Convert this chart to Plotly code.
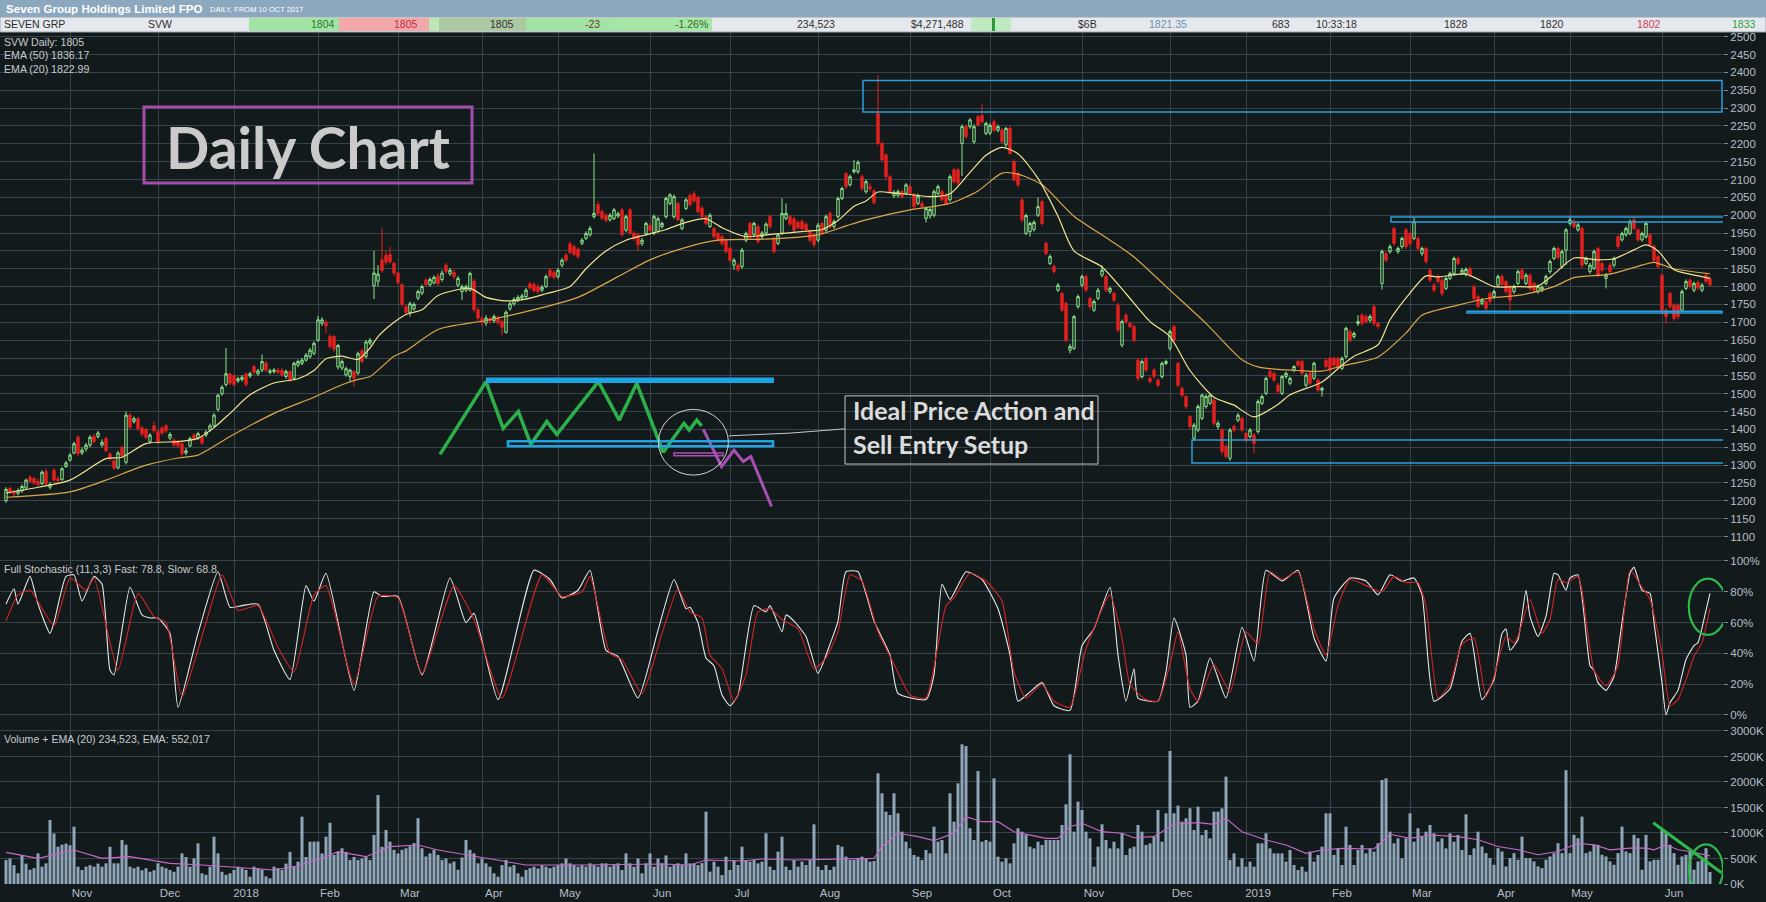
import plotly.graph_objects as go

# ---------------------------------------------------------------------------
# SVW daily candles, 10 Oct 2017 -> Jun 2019 (x = trading-day number)
# ---------------------------------------------------------------------------
opens = [
    1200, 1235, 1226, 1221, 1228, 1236, 1266, 1262, 1254, 1248,
    1282, 1238, 1285, 1262, 1260, 1296, 1314, 1334, 1378, 1334,
    1345, 1356, 1380, 1380, 1356, 1374, 1332, 1312, 1292, 1350,
    1308, 1440, 1422, 1430, 1404, 1400, 1366, 1410, 1394, 1404,
    1410, 1376, 1370, 1368, 1360, 1334, 1354, 1384, 1376, 1380,
    1384, 1398, 1410, 1456, 1500, 1526, 1555, 1550, 1536, 1540,
    1555, 1550, 1576, 1556, 1566, 1586, 1560, 1562, 1566, 1566,
    1548, 1562, 1543, 1580, 1585, 1594, 1604, 1613, 1650, 1697,
    1700, 1660, 1660, 1575, 1572, 1553, 1548, 1562, 1558, 1620,
    1604, 1642, 1802, 1815, 1875, 1888, 1890, 1865, 1838, 1805,
    1744, 1726, 1738, 1768, 1782, 1818, 1805, 1810, 1830, 1820,
    1860, 1836, 1840, 1804, 1786, 1790, 1790, 1815, 1735, 1710,
    1698, 1710, 1704, 1712, 1702, 1672, 1738, 1752, 1762, 1768,
    1772, 1808, 1806, 1800, 1790, 1800, 1846, 1840, 1828, 1860,
    1888, 1920, 1912, 1905, 1921, 1935, 1945, 1996, 2030, 2010,
    2000, 1987, 1991, 1998, 2015, 1958, 2015, 1950, 1945, 1921,
    1949, 1972, 1949, 1955, 1968, 1996, 2033, 1996, 2033, 1963,
    2019, 2055, 2060, 2050, 2020, 1996, 1968, 1963, 1949, 1940,
    1930, 1907, 1860, 1860, 1856, 1930, 1977, 1945, 1968, 1940,
    1950, 1996, 1935, 1921, 1949, 1991, 1996, 1990, 1980, 1982,
    1975, 1954, 1945, 1930, 1977, 1958, 2005, 1968, 1996, 2047,
    2117, 2085, 2122, 2122, 2108, 2066, 2080, 2068, 2285, 2201,
    2169, 2108, 2055, 2056, 2066, 2061, 2080, 2057, 2033, 2033,
    1991, 1998, 2000, 2061, 2066, 2057, 2043, 2127, 2127, 2201,
    2248, 2248, 2206, 2276, 2280, 2229, 2230, 2262, 2238, 2239,
    2197, 2243, 2150, 2117, 2043, 1949, 1954, 1960, 2000, 2038,
    1921, 1865, 1856, 1790, 1781, 1753, 1622, 1627, 1744, 1804,
    1828, 1767, 1734, 1767, 1832, 1828, 1786, 1781, 1748, 1636,
    1720, 1697, 1688, 1594, 1548, 1599, 1543, 1566, 1538, 1548,
    1585, 1627, 1688, 1585, 1515, 1492, 1436, 1375, 1398, 1431,
    1464, 1473, 1482, 1408, 1398, 1352, 1319, 1408, 1426, 1431,
    1389, 1380, 1384, 1394, 1473, 1501, 1562, 1557, 1524, 1501,
    1548, 1529, 1566, 1590, 1590, 1524, 1557, 1543, 1538, 1510,
    1594, 1599, 1599, 1599, 1571, 1604, 1674, 1660, 1697, 1720,
    1716, 1706, 1744, 1697, 1809, 1893, 1898, 1963, 1898, 1912,
    1959, 1949, 1935, 1935, 1893, 1907, 1846, 1804, 1828, 1818,
    1795, 1823, 1837, 1879, 1837, 1834, 1851, 1800, 1772, 1753,
    1758, 1781, 1772, 1804, 1828, 1814, 1800, 1786, 1809, 1846,
    1809, 1832, 1809, 1786, 1790, 1809, 1842, 1879, 1907, 1856,
    1902, 1977, 1982, 1959, 1963, 1865, 1842, 1851, 1907, 1865,
    1823, 1860, 1860, 1940, 1931, 1945, 1949, 1987, 1959, 1931,
    1940, 1945, 1912, 1884, 1832, 1734, 1781, 1748, 1748, 1734,
    1795, 1818, 1790, 1812, 1790, 1832, 1822,
]
highs = [
    1238, 1240, 1232, 1235, 1246, 1262, 1272, 1268, 1262, 1286,
    1290, 1252, 1292, 1270, 1294, 1312, 1334, 1366, 1384, 1350,
    1362, 1384, 1388, 1396, 1372, 1380, 1336, 1316, 1340, 1354,
    1450, 1446, 1436, 1436, 1410, 1404, 1390, 1422, 1400, 1410,
    1416, 1392, 1376, 1372, 1364, 1348, 1380, 1390, 1394, 1384,
    1398, 1416, 1446, 1500, 1524, 1628, 1560, 1556, 1548, 1552,
    1560, 1562, 1580, 1570, 1610, 1592, 1570, 1572, 1572, 1572,
    1568, 1566, 1590, 1596, 1600, 1614, 1628, 1646, 1718, 1714,
    1706, 1668, 1664, 1640, 1596, 1576, 1570, 1566, 1618, 1626,
    1650, 1656, 1900, 1860, 1963, 1900, 1912, 1870, 1842, 1810,
    1750, 1758, 1756, 1792, 1806, 1824, 1826, 1832, 1838, 1846,
    1866, 1852, 1848, 1830, 1806, 1806, 1842, 1822, 1742, 1718,
    1720, 1716, 1722, 1718, 1708, 1734, 1758, 1770, 1776, 1780,
    1796, 1814, 1812, 1808, 1804, 1834, 1852, 1846, 1852, 1880,
    1894, 1926, 1918, 1910, 1936, 1955, 1970, 2173, 2040, 2016,
    2006, 2006, 2020, 2010, 2020, 2002, 2020, 1956, 1950, 1936,
    1982, 1978, 2002, 1996, 1982, 2052, 2062, 2058, 2038, 1992,
    2048, 2062, 2068, 2056, 2026, 2000, 2006, 1968, 1954, 1946,
    1934, 1912, 1880, 1866, 1908, 1954, 1982, 1982, 1974, 1956,
    1980, 2002, 1940, 1950, 2047, 2033, 2000, 1996, 1986, 1988,
    1980, 1960, 1950, 1978, 1982, 2002, 2010, 1988, 2052, 2080,
    2122, 2114, 2155, 2154, 2114, 2100, 2090, 2074, 2393, 2206,
    2174, 2114, 2070, 2072, 2072, 2090, 2086, 2062, 2060, 2040,
    2024, 2022, 2072, 2086, 2072, 2062, 2114, 2132, 2132, 2254,
    2254, 2272, 2254, 2282, 2313, 2262, 2258, 2268, 2254, 2244,
    2248, 2250, 2156, 2122, 2048, 2004, 1982, 1986, 2050, 2044,
    1926, 1890, 1862, 1810, 1786, 1758, 1640, 1720, 1778, 1834,
    1834, 1772, 1764, 1796, 1860, 1834, 1800, 1786, 1754, 1708,
    1726, 1702, 1694, 1600, 1596, 1604, 1548, 1572, 1544, 1590,
    1596, 1680, 1694, 1590, 1520, 1496, 1440, 1418, 1470, 1500,
    1498, 1500, 1488, 1424, 1404, 1358, 1404, 1414, 1446, 1436,
    1394, 1404, 1390, 1484, 1498, 1548, 1568, 1562, 1530, 1552,
    1562, 1548, 1580, 1596, 1596, 1558, 1562, 1590, 1544, 1520,
    1600, 1604, 1604, 1604, 1604, 1688, 1680, 1674, 1720, 1726,
    1722, 1722, 1750, 1702, 1904, 1898, 1918, 1968, 1912, 1940,
    1964, 1954, 1994, 1940, 1912, 1912, 1852, 1810, 1834, 1824,
    1828, 1842, 1884, 1884, 1852, 1854, 1856, 1806, 1778, 1768,
    1764, 1786, 1792, 1834, 1834, 1820, 1806, 1806, 1848, 1852,
    1838, 1838, 1814, 1806, 1804, 1834, 1876, 1912, 1912, 1904,
    1964, 1996, 1990, 1978, 1968, 1884, 1866, 1904, 1912, 1870,
    1838, 1866, 1884, 1946, 1954, 1968, 1988, 1995, 1964, 1954,
    1982, 1950, 1918, 1890, 1836, 1740, 1786, 1754, 1752, 1792,
    1820, 1824, 1814, 1818, 1810, 1840, 1828,
]
lows = [
    1195, 1218, 1212, 1215, 1222, 1232, 1250, 1244, 1240, 1244,
    1244, 1232, 1254, 1250, 1256, 1292, 1310, 1330, 1326, 1328,
    1338, 1350, 1360, 1374, 1350, 1336, 1312, 1286, 1288, 1320,
    1302, 1400, 1416, 1396, 1380, 1372, 1360, 1390, 1360, 1384,
    1390, 1370, 1350, 1348, 1326, 1328, 1350, 1368, 1370, 1356,
    1378, 1394, 1406, 1450, 1494, 1520, 1524, 1520, 1530, 1534,
    1520, 1544, 1554, 1550, 1560, 1560, 1554, 1556, 1554, 1548,
    1542, 1532, 1538, 1574, 1580, 1590, 1598, 1608, 1645, 1690,
    1670, 1626, 1618, 1568, 1566, 1548, 1534, 1520, 1552, 1586,
    1598, 1636, 1765, 1800, 1840, 1860, 1864, 1830, 1806, 1742,
    1720, 1716, 1732, 1762, 1776, 1800, 1800, 1806, 1802, 1814,
    1836, 1830, 1820, 1798, 1762, 1784, 1786, 1728, 1704, 1690,
    1690, 1696, 1698, 1692, 1664, 1668, 1732, 1746, 1756, 1762,
    1766, 1790, 1784, 1780, 1784, 1796, 1824, 1820, 1822, 1854,
    1868, 1890, 1884, 1878, 1916, 1930, 1940, 1990, 1998, 1986,
    1980, 1982, 1986, 1992, 1940, 1952, 1944, 1928, 1900, 1914,
    1944, 1952, 1944, 1950, 1962, 1990, 2028, 1990, 1982, 1958,
    2014, 2024, 2034, 2004, 1990, 1972, 1964, 1934, 1924, 1914,
    1892, 1868, 1847, 1840, 1850, 1924, 1934, 1940, 1920, 1932,
    1944, 1962, 1892, 1916, 1944, 1986, 1970, 1952, 1960, 1956,
    1952, 1924, 1910, 1924, 1944, 1952, 1962, 1962, 1990, 2042,
    2074, 2080, 2116, 2116, 2068, 2060, 2066, 2030, 2195, 2150,
    2100, 2060, 2048, 2050, 2046, 2056, 2056, 2018, 2028, 2018,
    1980, 1990, 1994, 2056, 2038, 2028, 2038, 2088, 2084, 2110,
    2214, 2242, 2200, 2248, 2256, 2224, 2224, 2232, 2232, 2200,
    2190, 2168, 2094, 2078, 1980, 1944, 1940, 1954, 1995, 1970,
    1888, 1860, 1836, 1785, 1728, 1644, 1613, 1622, 1738, 1798,
    1784, 1738, 1728, 1762, 1826, 1784, 1780, 1756, 1672, 1630,
    1696, 1682, 1644, 1536, 1542, 1560, 1528, 1542, 1518, 1542,
    1580, 1620, 1644, 1518, 1490, 1458, 1400, 1368, 1392, 1426,
    1458, 1468, 1410, 1400, 1330, 1318, 1312, 1392, 1420, 1392,
    1364, 1374, 1333, 1388, 1468, 1496, 1542, 1532, 1500, 1496,
    1542, 1524, 1560, 1574, 1552, 1518, 1524, 1538, 1504, 1492,
    1570, 1560, 1574, 1566, 1566, 1598, 1644, 1654, 1690, 1690,
    1696, 1700, 1690, 1682, 1792, 1868, 1892, 1914, 1892, 1906,
    1906, 1914, 1930, 1900, 1886, 1864, 1812, 1784, 1808, 1774,
    1790, 1818, 1832, 1860, 1832, 1828, 1826, 1760, 1738, 1748,
    1732, 1752, 1766, 1798, 1800, 1780, 1734, 1780, 1804, 1818,
    1804, 1790, 1784, 1780, 1784, 1804, 1836, 1874, 1876, 1850,
    1860, 1970, 1962, 1954, 1852, 1860, 1836, 1846, 1826, 1840,
    1795, 1836, 1854, 1906, 1926, 1940, 1944, 1958, 1926, 1926,
    1934, 1912, 1868, 1850, 1722, 1697, 1738, 1704, 1708, 1728,
    1790, 1794, 1784, 1790, 1784, 1808, 1800,
]
closes = [
    1232, 1225, 1220, 1228, 1240, 1258, 1255, 1250, 1246, 1280,
    1248, 1246, 1258, 1256, 1290, 1306, 1328, 1360, 1332, 1342,
    1356, 1378, 1366, 1390, 1364, 1340, 1318, 1292, 1334, 1326,
    1440, 1406, 1430, 1402, 1386, 1378, 1384, 1396, 1366, 1390,
    1396, 1386, 1356, 1354, 1332, 1340, 1374, 1374, 1388, 1362,
    1392, 1410, 1440, 1496, 1518, 1556, 1530, 1526, 1542, 1546,
    1526, 1556, 1560, 1564, 1590, 1566, 1564, 1566, 1560, 1552,
    1562, 1538, 1585, 1590, 1594, 1608, 1622, 1641, 1707, 1707,
    1690, 1632, 1625, 1635, 1590, 1570, 1566, 1544, 1612, 1590,
    1645, 1650, 1838, 1835, 1845, 1868, 1870, 1838, 1812, 1750,
    1728, 1752, 1750, 1786, 1800, 1806, 1820, 1826, 1808, 1838,
    1842, 1846, 1828, 1823, 1800, 1800, 1837, 1735, 1712, 1700,
    1712, 1704, 1716, 1700, 1686, 1728, 1752, 1764, 1770, 1774,
    1790, 1796, 1788, 1786, 1798, 1828, 1830, 1826, 1846, 1874,
    1874, 1896, 1890, 1884, 1930, 1949, 1963, 2005, 2005, 1992,
    1986, 2000, 2015, 2004, 1945, 1996, 1950, 1935, 1917, 1930,
    1977, 1958, 1996, 1990, 1977, 2047, 2057, 2052, 1987, 1987,
    2043, 2030, 2040, 2010, 1996, 1977, 2000, 1940, 1930, 1920,
    1898, 1874, 1874, 1847, 1902, 1949, 1940, 1977, 1926, 1950,
    1975, 1968, 1898, 1945, 2005, 2005, 1975, 1958, 1965, 1962,
    1958, 1930, 1917, 1972, 1949, 1996, 1968, 1982, 2047, 2075,
    2080, 2108, 2127, 2148, 2075, 2094, 2074, 2035, 2201, 2155,
    2108, 2066, 2064, 2066, 2052, 2085, 2062, 2024, 2054, 2024,
    2019, 2016, 2066, 2080, 2043, 2033, 2108, 2094, 2090, 2248,
    2220, 2267, 2248, 2253, 2262, 2257, 2252, 2238, 2248, 2206,
    2243, 2173, 2099, 2085, 1987, 1999, 1977, 1980, 2024, 1977,
    1893, 1884, 1842, 1804, 1734, 1650, 1632, 1716, 1772, 1828,
    1790, 1744, 1758, 1790, 1846, 1790, 1795, 1762, 1678, 1702,
    1702, 1688, 1650, 1543, 1590, 1566, 1534, 1548, 1524, 1585,
    1590, 1674, 1650, 1524, 1496, 1464, 1408, 1412, 1464, 1496,
    1492, 1496, 1417, 1417, 1338, 1324, 1398, 1398, 1440, 1398,
    1370, 1398, 1361, 1478, 1492, 1543, 1548, 1538, 1506, 1548,
    1557, 1543, 1576, 1580, 1557, 1552, 1529, 1585, 1510, 1515,
    1576, 1566, 1580, 1571, 1599, 1683, 1650, 1669, 1702, 1697,
    1702, 1716, 1697, 1688, 1898, 1874, 1912, 1921, 1907, 1935,
    1912, 1921, 1982, 1907, 1907, 1870, 1818, 1790, 1814, 1781,
    1823, 1837, 1879, 1865, 1846, 1848, 1832, 1767, 1744, 1762,
    1739, 1758, 1786, 1828, 1806, 1786, 1762, 1800, 1842, 1823,
    1832, 1795, 1790, 1800, 1798, 1828, 1870, 1907, 1882, 1898,
    1959, 1987, 1968, 1973, 1860, 1879, 1860, 1898, 1832, 1846,
    1832, 1842, 1879, 1912, 1949, 1963, 1982, 1963, 1931, 1949,
    1977, 1917, 1874, 1856, 1734, 1716, 1744, 1711, 1716, 1786,
    1814, 1800, 1809, 1796, 1804, 1814, 1805,
]
# daily volume in thousands of shares
volume_k = [
    470, 500, 370, 210, 570, 400, 280, 310, 600, 340,
    405, 1255, 990, 730, 770, 790, 760, 1124, 340, 275,
    340, 370, 340, 400, 340, 405, 730, 405, 405, 863,
    770, 340, 310, 340, 270, 310, 240, 270, 405, 340,
    310, 275, 240, 340, 600, 530, 340, 503, 797, 209,
    180, 340, 928, 600, 240, 180, 209, 275, 340, 310,
    275, 144, 340, 310, 275, 150, 111, 340, 310, 275,
    400, 630, 340, 440, 1320, 530, 830, 830, 830, 600,
    928, 1200, 570, 630, 700, 630, 470, 530, 470, 500,
    530, 470, 960, 1745, 730, 1060, 830, 670, 600, 670,
    700, 740, 800, 1290, 700, 540, 600, 670, 570, 470,
    500, 405, 440, 280, 520, 863, 670, 600, 405, 500,
    405, 340, 209, 144, 370, 470, 340, 370, 209, 144,
    275, 310, 340, 305, 370, 340, 310, 340, 370, 405,
    500, 405, 370, 340, 370, 340, 405, 370, 340, 405,
    405, 340, 370, 405, 275, 600, 405, 340, 500, 209,
    405, 600, 340, 500, 405, 560, 340, 370, 405, 370,
    600, 405, 400, 370, 410, 1418, 242, 438, 340, 176,
    536, 275, 470, 372, 732, 470, 438, 470, 405, 438,
    994, 340, 275, 634, 928, 340, 275, 470, 340, 438,
    372, 470, 1170, 340, 275, 372, 275, 340, 765, 732,
    536, 470, 470, 503, 536, 503, 438, 451, 2170, 1778,
    1418, 1353, 1778, 1386, 1026, 830, 699, 569, 536, 470,
    667, 601, 1124, 830, 863, 601, 1778, 1222, 1974, 2739,
    2706, 1092, 863, 2216, 830, 863, 830, 2072, 536, 438,
    503, 405, 797, 1092, 1026, 961, 732, 699, 830, 765,
    863, 863, 863, 863, 1157, 1562, 2543, 1026, 1614, 1451,
    1026, 895, 340, 732, 1170, 863, 699, 830, 699, 994,
    569, 699, 732, 1157, 1026, 765, 797, 928, 1451, 830,
    1386, 2608, 1386, 1536, 1222, 1288, 1484, 1059, 1516, 961,
    1059, 895, 1418, 1418, 1484, 2105, 470, 601, 340, 503,
    340, 438, 340, 797, 797, 994, 699, 601, 601, 601,
    438, 667, 372, 275, 340, 242, 634, 438, 569, 732,
    1386, 1386, 569, 699, 372, 1124, 765, 372, 667, 765,
    601, 699, 634, 797, 2039, 2072, 1026, 797, 895, 503,
    895, 1386, 830, 1092, 928, 1026, 1157, 994, 830, 895,
    699, 994, 830, 961, 667, 1366, 569, 699, 1026, 735,
    605, 508, 377, 703, 638, 345, 508, 605, 475, 930,
    508, 508, 443, 345, 312, 475, 540, 605, 800, 605,
    2232, 605, 963, 898, 1321, 605, 638, 768, 768, 573,
    540, 443, 377, 605, 1126, 638, 605, 963, 898, 280,
    963, 443, 475, 475, 1061, 996, 768, 605, 377, 540,
    573, 638, 280, 443, 475, 703, 235,
]

# EMA lines, read at their turning points
ema20_day = [0, 8, 16, 25, 29, 35, 43, 48, 52, 56, 61, 67, 73, 77, 80, 84, 88, 91, 93, 97,
             100, 104, 108, 116, 120, 125, 130, 135, 141, 145, 150, 155, 160, 165, 170, 175,
             179, 185, 190, 195, 200, 204, 208, 212, 215, 218, 222, 226, 231, 236, 241, 245,
             249, 253, 258, 263, 267, 274, 280, 286, 291, 296, 302, 307, 312, 318, 321, 329,
             334, 337, 343, 346, 351, 355, 358, 365, 372, 377, 383, 387, 392, 398, 402, 407,
             410, 413, 417, 421, 426]
ema20_val = [1222, 1238, 1258, 1318, 1322, 1360, 1366, 1375, 1405, 1445, 1497, 1530, 1542, 1565,
             1598, 1605, 1596, 1628, 1660, 1700, 1722, 1735, 1775, 1795, 1770, 1760, 1765, 1780,
             1800, 1850, 1900, 1930, 1945, 1960, 1980, 1990, 1965, 1940, 1945, 1950, 1955, 1960,
             1985, 2025, 2040, 2065, 2062, 2058, 2052, 2060, 2120, 2168, 2190, 2172, 2103, 1997,
             1900, 1855, 1780, 1702, 1660, 1565, 1490, 1468, 1435, 1470, 1497, 1533, 1580, 1605,
             1637, 1707, 1782, 1830, 1827, 1835, 1800, 1800, 1802, 1835, 1880, 1875, 1878, 1903,
             1917, 1900, 1847, 1835, 1823]
ema50_day = [0, 16, 25, 35, 43, 48, 56, 67, 77, 84, 88, 91, 97, 100, 108, 120, 130, 143, 153,
             161, 170, 178, 190, 203, 210, 215, 226, 236, 243, 249, 253, 259, 267, 276, 282,
             291, 300, 309, 313, 318, 323, 329, 334, 343, 350, 354, 363, 371, 379, 387, 392,
             401, 409, 412, 417, 426]
ema50_val = [1210, 1225, 1258, 1300, 1320, 1328, 1380, 1445, 1490, 1525, 1540, 1548, 1605, 1620,
             1680, 1705, 1730, 1770, 1828, 1875, 1910, 1930, 1933, 1945, 1970, 1987, 2015, 2033,
             2068, 2118, 2115, 2085, 1997, 1930, 1883, 1790, 1697, 1595, 1575, 1568, 1565, 1563,
             1578, 1603, 1670, 1720, 1748, 1768, 1777, 1800, 1825, 1835, 1860, 1868, 1850, 1836]

# Full stochastic (11,3,3): fast (white) and slow (red) lines, read at turning points
stoch_fast_day = [0, 2, 3, 6, 8, 11, 12, 15, 17, 19, 22, 24, 26, 27, 31, 34, 36, 38, 41, 43,
                  48, 53, 56, 59, 63, 67, 71, 75, 77, 80, 87, 92, 94, 98, 104, 111, 115, 117,
                  123, 132, 136, 139, 143, 146, 150, 153, 158, 163, 167, 170, 171, 173, 175,
                  177, 179, 181, 183, 187, 190, 191, 194, 195, 197, 200, 203, 206, 208, 210,
                  213, 217, 221, 223, 230, 232, 234, 236, 240, 244, 248, 251, 253, 256, 259,
                  262, 266, 269, 272, 276, 278, 280, 282, 283, 288, 290, 292, 295, 296, 298,
                  301, 305, 309, 312, 315, 319, 323, 327, 330, 332, 336, 340, 343, 346, 349,
                  352, 354, 357, 361, 364, 366, 369, 372, 374, 375, 376, 378, 380, 381, 383,
                  385, 387, 388, 390, 391, 393, 396, 397, 398, 400, 402, 404, 406, 407, 409,
                  411, 412, 414, 415, 416, 418, 420, 422, 423, 425, 426]
stoch_fast_val = [72, 82, 72, 90, 72, 53, 60, 90, 91, 74, 90, 85, 29, 26, 83, 65, 63, 63, 53, 5,
                  53, 93, 70, 71, 72, 42, 23, 84, 74, 92, 16, 80, 77, 77, 26, 89, 60, 66,
                  10, 94, 88, 76, 81, 94, 42, 38, 11, 55, 88, 69, 70, 60, 37,
                  32, 13, 6, 13, 71, 67, 71, 54, 65, 61, 51, 27, 46, 61, 93,
                  93, 61, 39, 14, 10, 26, 85, 75, 93, 88, 69, 39, 9, 15, 21,
                  6, 3, 45, 56, 83, 39, 9, 30, 11, 9, 28, 63, 39, 5, 9,
                  37, 11, 57, 35, 94, 87, 94, 50, 35, 76, 89, 87, 78, 91, 87,
                  89, 78, 9, 17, 48, 53, 10, 23, 53, 56, 42, 49, 81, 64, 51,
                  64, 92, 91, 81, 89, 91, 32, 29, 21, 16, 25, 60, 92, 96, 81,
                  79, 60, 21, 0, 8, 16, 36, 45, 47, 68, 79]
stoch_slow_day = [0, 3, 6, 12, 16, 20, 22, 28, 33, 37, 40, 44, 50, 54, 58, 63, 68, 72, 77, 80,
                  87, 93, 98, 104, 112, 117, 124, 134, 139, 144, 146, 151, 154, 159, 164, 168,
                  171, 174, 176, 179, 182, 185, 188, 191, 194, 198, 202, 205, 208, 211, 214,
                  218, 222, 226, 230, 235, 237, 241, 245, 249, 252, 255, 259, 262, 266, 270,
                  276, 279, 281, 285, 288, 291, 293, 296, 298, 302, 306, 310, 313, 316, 319,
                  323, 327, 330, 333, 336, 340, 344, 347, 350, 353, 355, 358, 361, 364, 367,
                  370, 372, 375, 377, 378, 381, 384, 386, 388, 390, 393, 394, 397, 400, 403,
                  406, 409, 411, 414, 416, 418, 420, 422, 424, 426]
stoch_slow_val = [61, 78, 81, 58, 89, 81, 89, 29, 79, 64, 60, 12, 60, 91, 68, 71, 44, 28, 78, 84,
                  20, 77, 76, 27, 84, 62, 11, 91, 77, 80, 90, 40, 36, 14, 53, 82,
                  67, 63, 39, 30, 9, 26, 67, 69, 62, 56, 30, 37, 54, 91, 87,
                  54, 33, 13, 11, 71, 76, 92, 87, 74, 28, 11, 20, 9, 5, 43,
                  78, 50, 20, 10, 9, 33, 54, 17, 9, 33, 15, 54, 46, 93, 88,
                  93, 56, 39, 71, 88, 84, 80, 90, 86, 86, 71, 11, 20, 46, 50,
                  12, 25, 51, 47, 51, 75, 53, 62, 88, 86, 90, 81, 29, 19, 32,
                  94, 83, 75, 40, 6, 10, 23, 38, 47, 69]

# 20-day EMA of volume (thousands), read at turning points
vol_ema_day = [0, 8, 17, 24, 31, 41, 49, 61, 67, 72, 79, 83, 90, 96, 103, 108, 115, 122, 130,
               144, 164, 171, 175, 184, 189, 197, 206, 217, 219, 223, 228, 232, 237, 240, 244,
               248, 252, 256, 260, 263, 266, 269, 274, 279, 282, 287, 292, 298, 302, 305, 309,
               315, 320, 325, 329, 334, 342, 346, 351, 356, 363, 368, 373, 378, 383, 388, 393,
               397, 401, 406, 410, 412, 415, 418, 421, 426]
vol_ema_val = [620, 503, 667, 503, 536, 405, 372, 307, 275, 340, 503, 634, 536, 732, 765, 667,
               569, 470, 372, 372, 392, 373, 470, 450, 490, 470, 490, 503, 732, 994, 928, 850,
               994, 1320, 1222, 1222, 1026, 960, 895, 895, 1124, 1190, 1026, 994, 908, 928,
               1170, 1203, 1170, 1288, 1026, 863, 765, 601, 667, 699, 686, 974, 895, 960, 928,
               866, 735, 670, 573, 638, 800, 768, 670, 703, 703, 670, 768, 670, 638, 552]

# month boundaries (trading-day number) for the time axis
month_ticks = [16, 38, 57, 78, 98, 119, 138, 161, 181, 203, 226, 246, 269, 291, 310, 331,
               351, 372, 391, 414]
month_labels = ["Nov", "Dec", "2018", "Feb", "Mar", "Apr", "May", "Jun", "Jul", "Aug", "Sep",
                "Oct", "Nov", "Dec", "2019", "Feb", "Mar", "Apr", "May", "Jun"]

price_ticks = list(range(1100, 2501, 50))
stoch_ticks = [0, 20, 40, 60, 80, 100]
vol_ticks = [0, 500, 1000, 1500, 2000, 2500, 3000]

# hand-drawn "ideal price action" sketch (day, price)
sketch_up_day = [108.5, 120, 124.3, 128.1, 131.2, 135.2, 137.7, 148.1, 153.3, 157.7, 164.3,
                 169.5, 170.8, 172.7, 173.9]
sketch_up_px = [1330, 1534, 1403, 1450, 1358, 1422, 1386, 1534, 1426, 1529, 1336, 1417, 1398,
                1426, 1410]
sketch_down_day = [174.3, 178.9, 182, 184.3, 186.2, 191.4]
sketch_down_px = [1401, 1296, 1342, 1310, 1324, 1184]

days = list(range(len(closes)))
assert len(opens) == len(highs) == len(lows) == len(closes) == len(volume_k)

BG = "#131a1c"
GRID = "#37434a"
TICK = "#b5bdc4"
SANS = "Liberation Sans, Arial, sans-serif"
BLUE = "#2aa0dc"


def px(x):
    # header / label placement, pixels -> paper
    return x / 1723.0


def py(y):
    return (884.0 - y) / 852.0


fig = go.Figure()

# price panel
fig.add_trace(go.Candlestick(
    x=days, open=opens, high=highs, low=lows, close=closes,
    increasing=dict(line=dict(color="#8ee88e", width=1), fillcolor="rgba(0,0,0,0)"),
    decreasing=dict(line=dict(color="#e3201e", width=1), fillcolor="#e3201e"),
    whiskerwidth=0, xaxis="x", yaxis="y", hoverinfo="skip"))
fig.add_trace(go.Scatter(x=ema50_day, y=ema50_val, mode="lines", yaxis="y",
                         line=dict(color="#d9a64c", width=1.2, shape="spline", smoothing=0.7)))
fig.add_trace(go.Scatter(x=ema20_day, y=ema20_val, mode="lines", yaxis="y",
                         line=dict(color="#f0e490", width=1.2, shape="spline", smoothing=0.7)))
fig.add_trace(go.Scatter(x=sketch_up_day, y=sketch_up_px, mode="lines", yaxis="y",
                         line=dict(color="#2bb04a", width=3.5)))
fig.add_trace(go.Scatter(x=sketch_down_day, y=sketch_down_px, mode="lines", yaxis="y",
                         line=dict(color="#a84fb4", width=3)))

# stochastic panel
fig.add_trace(go.Scatter(x=stoch_fast_day, y=stoch_fast_val, mode="lines", yaxis="y2",
                         line=dict(color="#e8e8e8", width=1.1, shape="spline", smoothing=0.5)))
fig.add_trace(go.Scatter(x=stoch_slow_day, y=stoch_slow_val, mode="lines", yaxis="y2",
                         line=dict(color="#d42424", width=1.1, shape="spline", smoothing=0.5)))

# volume panel
fig.add_trace(go.Bar(x=days, y=volume_k, yaxis="y3", marker=dict(color="#8fa5b8", line=dict(width=0))))
fig.add_trace(go.Scatter(x=vol_ema_day, y=vol_ema_val, mode="lines", yaxis="y3",
                         line=dict(color="#c86ac8", width=1.1)))

axis_font = dict(family=SANS, size=11.5, color=TICK)
yaxis_common = dict(anchor="x", side="right", ticks="outside", ticklen=4, tickcolor="#7f8a91",
                    showgrid=True, gridcolor=GRID, gridwidth=1, zeroline=False, showline=False,
                    tickfont=axis_font, fixedrange=True)

fig.update_layout(
    width=1766, height=902,
    margin=dict(l=0, r=43, t=32, b=18),
    paper_bgcolor=BG, plot_bgcolor=BG,
    showlegend=False, bargap=0.25, boxgap=0.15,
    xaxis=dict(domain=[0, 1], range=[-1.5, 429.25], anchor="y3",
               tickvals=month_ticks, ticktext=month_labels, ticks="",
               showgrid=True, gridcolor=GRID, gridwidth=1, zeroline=False, showline=False,
               tickfont=axis_font, ticklabelshift=12, ticklabelstandoff=0,
               rangeslider=dict(visible=False)),
    yaxis=dict(domain=[0.38498, 1], range=[1045.4, 2513.2], tickvals=price_ticks, **yaxis_common),
    yaxis2=dict(domain=[0.19014, 0.38498], range=[-4.55, 103.25], tickvals=stoch_ticks,
                ticktext=[f"{v}%" for v in stoch_ticks], **yaxis_common),
    yaxis3=dict(domain=[0, 0.19014], range=[0, 3176], tickvals=vol_ticks,
                ticktext=[f"{v}K" for v in vol_ticks], **yaxis_common),
)

shapes = []
# support / resistance boxes
for x0, x1, y0, y1 in [(214.25, 429.0, 2289, 2377), (346.25, 429.5, 1981, 1995),
                       (365.25, 429.0, 1726, 1731), (296.5, 429.75, 1306, 1370)]:
    shapes.append(dict(type="rect", xref="x", yref="y", x0=x0, x1=x1, y0=y0, y1=y1,
                       line=dict(color=BLUE, width=1.5)))
# sketch levels
shapes.append(dict(type="line", xref="x", yref="y", x0=120, x1=192, y0=1538, y1=1538,
                   line=dict(color="#1ea3e4", width=5.5)))
shapes.append(dict(type="rect", xref="x", yref="y", x0=125.5, x1=191.75, y0=1353, y1=1367,
                   line=dict(color="#1ea3e4", width=2.6)))
shapes.append(dict(type="rect", xref="x", yref="y", x0=167, x1=179.25, y0=1326, y1=1334,
                   line=dict(color="#a84fb4", width=1.5)))
shapes.append(dict(type="circle", xref="x", yref="y", x0=163.1, x1=180.6, y0=1272, y1=1456,
                   line=dict(color="#d4d4d4", width=1)))
shapes.append(dict(type="path", xref="x", yref="y",
                   path="M 180.75 1382 L 196 1389.6 L 209.75 1401.6",
                   line=dict(color="#c8c8c8", width=1)))
shapes.append(dict(type="rect", xref="x", yref="y", x0=209.75, x1=273, y0=1303, y1=1494,
                   line=dict(color="#c4c4c4", width=1)))
# "Daily Chart" frame
shapes.append(dict(type="rect", xref="x", yref="y", x0=34.5, x1=116.5, y0=2090, y1=2303,
                   line=dict(color="#a24da8", width=3)))
# green marks on the oscillator and volume panels
shapes.append(dict(type="circle", xref="x", yref="y2", x0=420.7, x1=430.2, y0=52, y1=88.5,
                   line=dict(color="#2eb84a", width=2.2)))
shapes.append(dict(type="line", xref="x", yref="y3", x0=411.8, x1=428.9, y0=1202, y1=222,
                   line=dict(color="#2eb84a", width=3)))
shapes.append(dict(type="circle", xref="x", yref="y3", x0=420.75, x1=429.25, y0=-202, y1=778,
                   line=dict(color="#2eb84a", width=2.2)))

# quote header
shapes.append(dict(type="rect", xref="paper", yref="paper", x0=0, x1=px(1766), y0=py(17), y1=py(0),
                   fillcolor="#8ba8bf", line=dict(width=0), layer="above"))
shapes.append(dict(type="rect", xref="paper", yref="paper", x0=0, x1=px(1766), y0=py(32), y1=py(17),
                   fillcolor="#e5e9ed", line=dict(color="#9aa7b2", width=1), layer="above"))
for x0, x1, col in [(249, 339, "#a2e4a6"), (339, 429, "#f2a7aa"), (429, 439, "#bce8b8"),
                    (439, 526, "#adc9a2"), (526, 615, "#a2e4a6"), (615, 712, "#a6e6a6"),
                    (971, 1011, "#bfe9bf"), (992, 995, "#2a9a3a")]:
    shapes.append(dict(type="rect", xref="paper", yref="paper", x0=px(x0), x1=px(x1),
                       y0=py(31), y1=py(18), fillcolor=col, line=dict(width=0), layer="above"))
fig.update_layout(shapes=shapes)

ann = []
ann.append(dict(x=px(4), y=py(8.5), xref="paper", yref="paper", xanchor="left", yanchor="middle",
                text="<b>Seven Group Holdings Limited FPO</b>", showarrow=False,
                font=dict(family=SANS, size=11.6, color="#ffffff")))
ann.append(dict(x=px(208), y=py(9.5), xref="paper", yref="paper", xanchor="left", yanchor="middle",
                text="DAILY, FROM 10 OCT 2017", showarrow=False,
                font=dict(family=SANS, size=7.5, color="#ffffff")))
for label, x in [("SEVEN GRP", 2), ("SVW", 146)]:
    ann.append(dict(x=px(x), y=py(24.5), xref="paper", yref="paper", xanchor="left",
                    yanchor="middle", text=label, showarrow=False,
                    font=dict(family=SANS, size=10.5, color="#2c2c2c")))
for label, x, col in [("1804", 337, "#2a7a2a"), ("1805", 420, "#c03040"), ("1805", 516, "#303030"),
                      ("-23", 602, "#703828"), ("-1.26%", 710, "#3a6a2a"),
                      ("234,523", 837, "#303030"), ("$4,271,488", 966, "#303030"),
                      ("$6B", 1099, "#303030"), ("1821.35", 1189, "#6f8fb0"),
                      ("683", 1292, "#303030"), ("10:33:18", 1359, "#303030"),
                      ("1828", 1470, "#303030"), ("1820", 1566, "#303030"),
                      ("1802", 1663, "#d04050"), ("1833", 1758, "#30a040")]:
    ann.append(dict(x=px(x), y=py(24.5), xref="paper", yref="paper", xanchor="right",
                    yanchor="middle", text=label, showarrow=False,
                    font=dict(family=SANS, size=10.5, color=col)))

# panel captions
for label, y in [("SVW Daily: 1805", 42), ("EMA (50) 1836.17", 55.5), ("EMA (20) 1822.99", 68.5),
                 ("Full Stochastic (11,3,3) Fast: 78.8, Slow: 68.8", 569),
                 ("Volume + EMA (20) 234,523, EMA: 552,017", 739)]:
    ann.append(dict(x=px(2), y=py(y), xref="paper", yref="paper", xanchor="left",
                    yanchor="middle", text=label, showarrow=False,
                    font=dict(family=SANS, size=10.6, color="#c6cacd")))

ann.append(dict(x=75.5, y=2190, xref="x", yref="y", text="<b>Daily Chart</b>", showarrow=False,
                xanchor="center", yanchor="middle",
                font=dict(family="Lato, Open Sans, sans-serif", size=57, color="#cacaca")))
for label, y in [("Ideal Price Action and", 1454), ("Sell Entry Setup", 1359)]:
    ann.append(dict(x=211.25, y=y, xref="x", yref="y", text=f"<b>{label}</b>", showarrow=False,
                    xanchor="left", yanchor="middle",
                    font=dict(family="Lato, Open Sans, sans-serif", size=25, color="#dcdcdc")))
fig.update_layout(annotations=ann)

# the page keeps the browser's default 8px body margin unless it is removed
fig.write_html("out.html", config={"displayModeBar": False},
               post_script="document.body.style.margin='0px';")
